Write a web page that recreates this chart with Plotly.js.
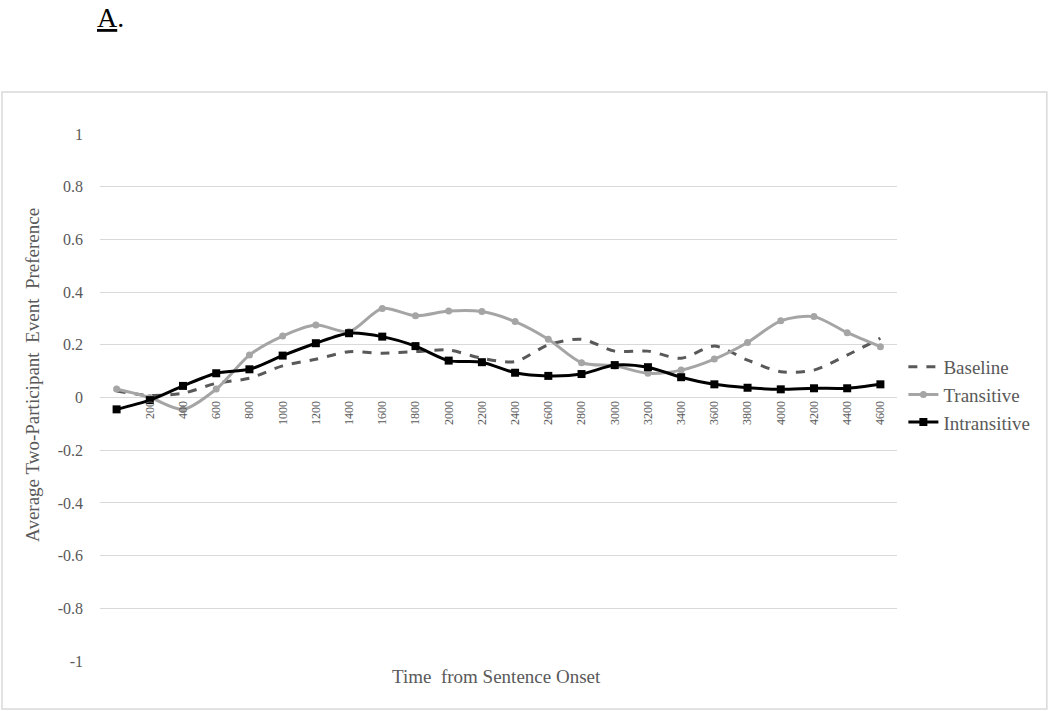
<!DOCTYPE html>
<html>
<head>
<meta charset="utf-8">
<script src="https://cdn.plot.ly/plotly-3.0.1.min.js"></script>
<style>
  body { margin: 0; background: #fff; }
  #chart { width: 1050px; height: 711px; }
</style>
</head>
<body>
<div id="chart"></div>
<script>
// time points (ms from sentence onset), one category each
var times = ['0', '200', '400', '600', '800', '1000', '1200', '1400', '1600', '1800', '2000', '2200',
             '2400', '2600', '2800', '3000', '3200', '3400', '3600', '3800', '4000', '4200', '4400', '4600'];
// the first label sits under the markers in the original, so it is left blank
var tickLabels = ['', '200', '400', '600', '800', '1000', '1200', '1400', '1600', '1800', '2000', '2200',
                  '2400', '2600', '2800', '3000', '3200', '3400', '3600', '3800', '4000', '4200', '4400', '4600'];
var yTicks = [-1, -0.8, -0.6, -0.4, -0.2, 0, 0.2, 0.4, 0.6, 0.8, 1];
var yTickLabels = ['-1', '-0.8', '-0.6', '-0.4', '-0.2', '0', '0.2', '0.4', '0.6', '0.8', '1'];

var baseline = [0.025, 0.008, 0.016, 0.054, 0.073, 0.12, 0.145, 0.174, 0.168, 0.174, 0.18, 0.149,
                0.136, 0.2, 0.221, 0.176, 0.176, 0.149, 0.195, 0.142, 0.098, 0.104, 0.161, 0.225];
var transitive = [0.032, 0.0, -0.045, 0.032, 0.161, 0.233, 0.275, 0.25, 0.338, 0.31, 0.328, 0.326,
                  0.288, 0.221, 0.132, 0.12, 0.092, 0.104, 0.146, 0.209, 0.291, 0.307, 0.246, 0.193];
var intransitive = [-0.045, -0.01, 0.044, 0.092, 0.107, 0.159, 0.206, 0.244, 0.231, 0.195, 0.14, 0.134,
                    0.094, 0.082, 0.089, 0.123, 0.115, 0.077, 0.05, 0.037, 0.031, 0.035, 0.035, 0.05];

var font = 'Liberation Serif, Times New Roman, serif';
var textGray = '#595959';

var data = [
  {x: times, y: baseline, name: 'Baseline', type: 'scatter', mode: 'lines',
   line: {color: '#595959', width: 3, dash: 'dash', shape: 'spline', smoothing: 0.8}},
  {x: times, y: transitive, name: 'Transitive', type: 'scatter', mode: 'lines+markers',
   line: {color: '#a5a5a5', width: 3, shape: 'spline', smoothing: 0.8},
   marker: {color: '#a5a5a5', size: 7, symbol: 'circle'}},
  {x: times, y: intransitive, name: 'Intransitive', type: 'scatter', mode: 'lines+markers',
   line: {color: '#000000', width: 3, shape: 'spline', smoothing: 0.8},
   marker: {color: '#000000', size: 8, symbol: 'square'}}
];

var layout = {
  width: 1050, height: 711,
  paper_bgcolor: '#ffffff', plot_bgcolor: '#ffffff',
  margin: {l: 100, r: 153, t: 134, b: 50, pad: 0},
  font: {family: font, color: textGray},
  showlegend: true,
  legend: {x: 1.008, xanchor: 'left', y: 0.505, yanchor: 'middle',
           font: {family: font, size: 19, color: textGray}, bgcolor: 'rgba(0,0,0,0)'},
  xaxis: {type: 'category', range: [-0.5, 23.5], tickmode: 'array', tickvals: times, ticktext: tickLabels,
          tickangle: -90, tickfont: {family: font, size: 12, color: textGray},
          anchor: 'free', position: 0.5, showgrid: false, showline: false,
          ticks: '', fixedrange: true},
  yaxis: {range: [-1, 1], tickmode: 'array', tickvals: yTicks, ticktext: yTickLabels,
          showgrid: true, gridcolor: '#d9d9d9',
          gridwidth: 1, zeroline: true, zerolinecolor: '#d9d9d9', zerolinewidth: 1,
          showline: false, ticks: '', ticklabelstandoff: 16,
          tickfont: {family: font, size: 16, color: textGray}},
  annotations: [
    {text: '<u>A</u>.', xref: 'paper', yref: 'paper', x: -0.006, y: 1.2545, xanchor: 'left',
     yanchor: 'top', showarrow: false, font: {family: font, size: 28, color: '#000000'}},
    {text: 'Average Two-Participant  Event  Preference', xref: 'paper', yref: 'paper',
     x: -0.084, y: 0.543, xanchor: 'center', yanchor: 'middle', textangle: -90, showarrow: false,
     font: {family: font, size: 19, color: textGray}},
    {text: 'Time  from Sentence Onset', xref: 'paper', yref: 'paper', x: 0.498, y: -0.0285,
     xanchor: 'center', yanchor: 'middle',
     showarrow: false, font: {family: font, size: 19, color: textGray}}
  ],
  shapes: [
    {type: 'rect', xref: 'paper', yref: 'paper', x0: -0.123, x1: 1.188, y0: -0.0911, y1: 1.0797,
     line: {color: '#d9d9d9', width: 1.5}, fillcolor: 'rgba(0,0,0,0)', layer: 'below'}
  ]
};

Plotly.newPlot('chart', data, layout, {staticPlot: true});
</script>
</body>
</html>
